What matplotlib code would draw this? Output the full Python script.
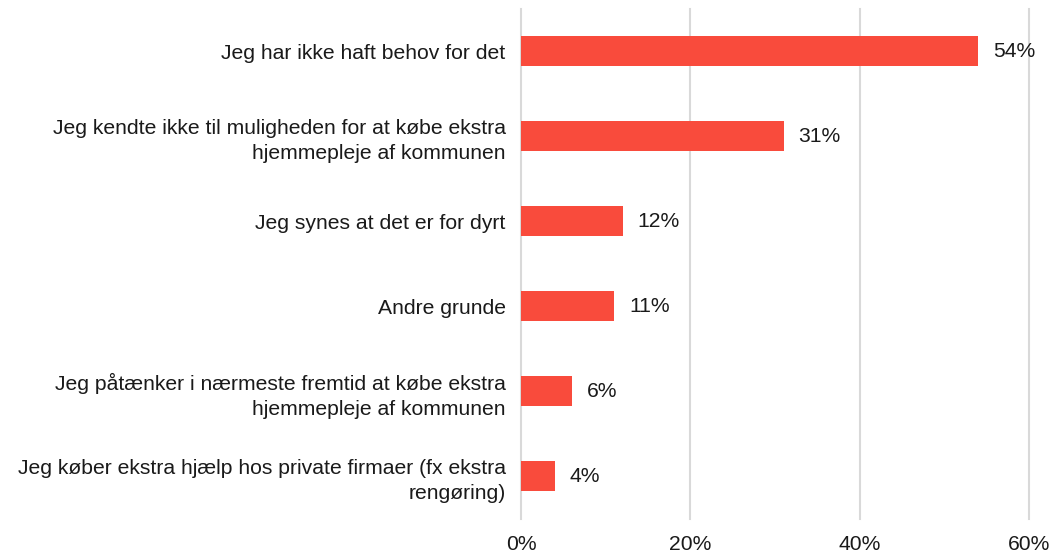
import matplotlib.pyplot as plt
from matplotlib.ticker import PercentFormatter

plt.rcParams['font.family'] = ['Liberation Sans', 'DejaVu Sans']

reasons = [
    "Jeg har ikke haft behov for det",
    "Jeg kendte ikke til muligheden for at købe ekstra\nhjemmepleje af kommunen",
    "Jeg synes at det er for dyrt",
    "Andre grunde",
    "Jeg påtænker i nærmeste fremtid at købe ekstra\nhjemmepleje af kommunen",
    "Jeg køber ekstra hjælp hos private firmaer (fx ekstra\nrengøring)",
]
shares = [54, 31, 12, 11, 6, 4]
xticks = [0, 20, 40, 60]

fs = 15.2
fig = plt.figure(figsize=(10.53, 5.54), dpi=100)
ax = fig.add_axes([0.4948, 0.064, 0.4825, 0.9206])

pos = list(range(len(reasons)))
bars = ax.barh(pos, shares, height=0.36, color="#F94B3C", zorder=3)
for rect, val in zip(bars, shares):
    ax.text(rect.get_width() + 1.75, rect.get_y() + rect.get_height() / 2,
            "%d%%" % val, ha="left", va="center", fontsize=fs, color="#1a1a1a")

ax.set_yticks(pos)
ax.set_yticklabels(reasons, fontsize=fs, color="#1a1a1a", ha="right",
                   linespacing=1.4)
ax.set_ylim(len(reasons) - 0.5, -0.5)
ax.set_xlim(0, 60)
ax.set_xticks(xticks)
ax.xaxis.set_major_formatter(PercentFormatter(decimals=0))
ax.tick_params(axis="x", length=0, pad=12, labelsize=fs, labelcolor="#1a1a1a")
ax.tick_params(axis="y", length=0, pad=11)
ax.grid(True, axis="x", color="#D9D9D9", linewidth=1.5, zorder=0)
for line in ax.get_xgridlines():
    line.set_clip_on(False)
for s in ax.spines.values():
    s.set_visible(False)

fig.savefig("out.png", dpi=100)
